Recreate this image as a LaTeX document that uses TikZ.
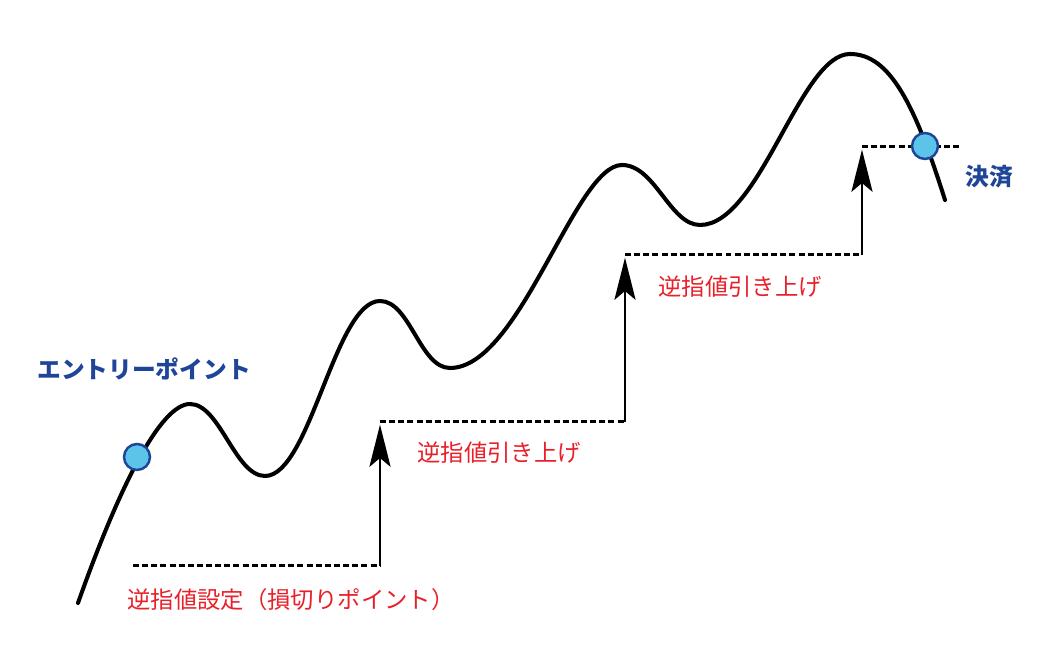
\documentclass[tikz,border=0pt]{standalone}
\usepackage{fontspec}
\setmainfont{Noto Sans CJK JP}
\usetikzlibrary{arrows.meta}
\definecolor{stopred}{HTML}{E8202A}
\definecolor{pinblue}{HTML}{1E4598}
\definecolor{pinfill}{HTML}{5BC4E8}

\begin{document}
\begin{tikzpicture}[x=0.02cm,y=0.02cm,
  curve/.style={line width=2.3pt,line cap=round},
  stopline/.style={line width=1.7pt,dash pattern=on 3.4pt off 1.8pt},
  raise/.style={line width=1.6pt,-{Stealth[length=24pt,width=12pt,inset=5pt]},shorten >=1.5pt},
  pin/.style={circle,draw=pinblue,fill=pinfill,line width=1.4pt,minimum size=0.52cm,inner sep=0pt},
  redlabel/.style={anchor=west,text=stopred,font=\fontsize{13.3pt}{16pt}\selectfont,inner sep=0pt},
  bluelabel/.style={anchor=west,text=pinblue,font=\fontsize{13.5pt}{16pt}\selectfont\bfseries,inner sep=0pt}]
\useasboundingbox (0,0) rectangle (1059,665);
\draw[curve] (78,62) .. controls (118,175) and (160,261) .. (190,261)
  .. controls (220,261) and (235,189) .. (265,189)
  .. controls (310,189) and (335,364) .. (380,364)
  .. controls (410,364) and (420,297) .. (450,297)
  .. controls (520,297) and (575,500) .. (622,500)
  .. controls (655,500) and (670,440) .. (700,440)
  .. controls (760,440) and (800,611) .. (850,611)
  .. controls (890,611) and (915,560) .. (945,465);
\coordinate (s0) at (133,99);
\coordinate (s1) at (380,99);
\coordinate (t1) at (380,243);
\coordinate (s2) at (625,243);
\coordinate (t2) at (625,410);
\coordinate (s3) at (862,410);
\coordinate (t3) at (862,518);
\coordinate (s4) at (960,518);
\draw[stopline] (s0) -- (s1);
\draw[stopline] (t1) -- (s2);
\draw[stopline] (t2) -- (s3);
\draw[stopline] (t3) -- (s4);
\draw[raise] (s1) -- (t1);
\draw[raise] (s2) -- (t2);
\draw[raise] (s3) -- (t3);
\node[pin] (entry) at (137,208) {};
\node[pin] (exit) at (925,519) {};
\node[bluelabel] (entrytext) at (37,296) {エントリーポイント};
\node[bluelabel] (exittext) at (965,488) {決済};
\node[redlabel] (stoptext) at (127,65) {逆指値設定（損切りポイント）};
\node[redlabel] (raisetext1) at (417,212) {逆指値引き上げ};
\node[redlabel] (raisetext2) at (658,378) {逆指値引き上げ};
\end{tikzpicture}
\end{document}
